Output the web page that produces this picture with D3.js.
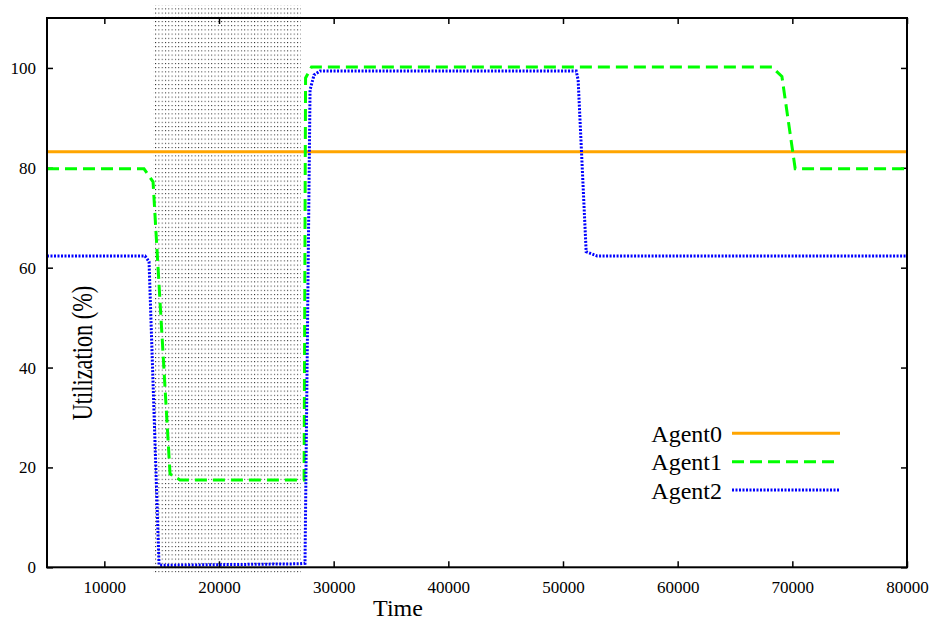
<!DOCTYPE html>
<html>
<head>
<meta charset="utf-8">
<script src="https://cdn.jsdelivr.net/npm/d3@7"></script>
<style>
  body { margin: 0; background: #fff; }
  svg text { font-family: "Liberation Serif", "Times New Roman", serif; }
</style>
</head>
<body>
<div id="chart"></div>
<script>
// Data
const seriesNames = ["Agent0", "Agent1", "Agent2"];

const agent0Time = [5000, 80000];
const agent0Util = [83.2, 83.2];

const agent1Time = [5000, 13460, 14250, 15730, 16600, 27420, 27550, 28070, 68220, 69090, 70250, 80000];
const agent1Util = [79.8, 79.8, 77.2, 18.7, 17.5, 17.5, 98.0, 100.2, 100.2, 98.3, 79.8, 79.8];

const agent2Time = [5000, 13550, 13900, 14770, 15030, 27000, 27500, 27940, 28290, 28815, 51150, 51320, 52020, 52980, 80000];
const agent2Util = [62.35, 62.35, 61.2, 0.5, 0.4, 0.7, 0.8, 95.6, 98.6, 99.4, 99.4, 97.6, 63.2, 62.35, 62.35];

// shaded interval (extends slightly past the frame, like the original)
const shadeTime = [14270, 27125];
const shadeUtil = [-1.1, 112.6];

const xTicks = [10000, 20000, 30000, 40000, 50000, 60000, 70000, 80000];
const yTicks = [0, 20, 40, 60, 80, 100];

// Layout
const width = 936, height = 623;
const plotLeft = 47, plotRight = 907, plotTop = 18, plotBottom = 567.3;
const serif = "'Liberation Serif', 'Times New Roman', serif";

const svg = d3.select("#chart").append("svg")
    .attr("width", width)
    .attr("height", height)
    .attr("font-family", serif);

const x = d3.scaleLinear().domain([5000, 80000]).range([plotLeft, plotRight]);
const y = d3.scaleLinear().domain([0, 110]).range([plotBottom, plotTop]);

// dotted fill pattern
const defs = svg.append("defs");
const pat = defs.append("pattern")
    .attr("id", "dots")
    .attr("patternUnits", "userSpaceOnUse")
    .attr("width", 3.3)
    .attr("height", 4.2);
pat.append("rect").attr("x", 0).attr("y", 0).attr("width", 1).attr("height", 1).attr("fill", "#222");

svg.append("rect")
    .attr("x", x(shadeTime[0]))
    .attr("y", y(shadeUtil[1]))
    .attr("width", x(shadeTime[1]) - x(shadeTime[0]))
    .attr("height", y(shadeUtil[0]) - y(shadeUtil[1]))
    .attr("fill", "url(#dots)");

// Axes (ticks inward, mirrored)
const fmt = d3.format("d");
const styleAxis = (g) => {
    g.attr("font-family", serif).attr("font-size", 17);
    g.select(".domain").remove();
    g.selectAll(".tick line").attr("stroke", "#000").attr("stroke-width", 1.5);
    g.selectAll("text").attr("fill", "#000");
};

svg.append("g")
    .attr("transform", `translate(0,${plotBottom})`)
    .call(d3.axisBottom(x).tickValues(xTicks).tickFormat(fmt).tickSize(-6).tickPadding(14))
    .call(styleAxis);

svg.append("g")
    .attr("transform", `translate(0,${plotTop})`)
    .call(d3.axisTop(x).tickValues(xTicks).tickFormat("").tickSize(-6))
    .call(styleAxis);

svg.append("g")
    .attr("transform", `translate(${plotLeft},0)`)
    .call(d3.axisLeft(y).tickValues(yTicks).tickFormat(fmt).tickSize(-6).tickPadding(11))
    .call(styleAxis);

svg.append("g")
    .attr("transform", `translate(${plotRight},0)`)
    .call(d3.axisRight(y).tickValues(yTicks).tickFormat("").tickSize(-6))
    .call(styleAxis);

// Lines
const series = [
    { name: seriesNames[0], t: agent0Time, v: agent0Util, color: "#ffa500", dash: null },
    { name: seriesNames[1], t: agent1Time, v: agent1Util, color: "#00ff00", dash: "12,6" },
    { name: seriesNames[2], t: agent2Time, v: agent2Util, color: "#0000ff", dash: "2,1.5" }
];

const line = d3.line().x((d) => x(d[0])).y((d) => y(d[1]));

series.forEach((s) => {
    svg.append("path")
        .datum(s.t.map((t, i) => [t, s.v[i]]))
        .attr("d", line)
        .attr("fill", "none")
        .attr("stroke", s.color)
        .attr("stroke-width", 3)
        .attr("stroke-dasharray", s.dash);
});

// Frame
svg.append("rect")
    .attr("x", plotLeft).attr("y", plotTop)
    .attr("width", plotRight - plotLeft).attr("height", plotBottom - plotTop)
    .attr("fill", "none")
    .attr("stroke", "#000")
    .attr("stroke-width", 2);

// Axis titles
svg.append("text")
    .attr("x", 398).attr("y", 616)
    .attr("text-anchor", "middle")
    .attr("font-size", 24)
    .text("Time");

// rotated label in the original is tall and narrow
svg.append("text")
    .attr("transform", "translate(92,353) rotate(-90) scale(0.77,1)")
    .attr("text-anchor", "middle")
    .attr("font-size", 29)
    .text("Utilization (%)");

// Legend
series.forEach((s, i) => {
    const ly = 433.3 + i * 28.4;
    svg.append("text")
        .attr("x", 722).attr("y", ly + 8.5)
        .attr("text-anchor", "end")
        .attr("font-size", 24)
        .text(s.name);
    svg.append("line")
        .attr("x1", 732).attr("x2", 840)
        .attr("y1", ly).attr("y2", ly)
        .attr("stroke", s.color)
        .attr("stroke-width", 3)
        .attr("stroke-dasharray", s.dash);
});
</script>
</body>
</html>
